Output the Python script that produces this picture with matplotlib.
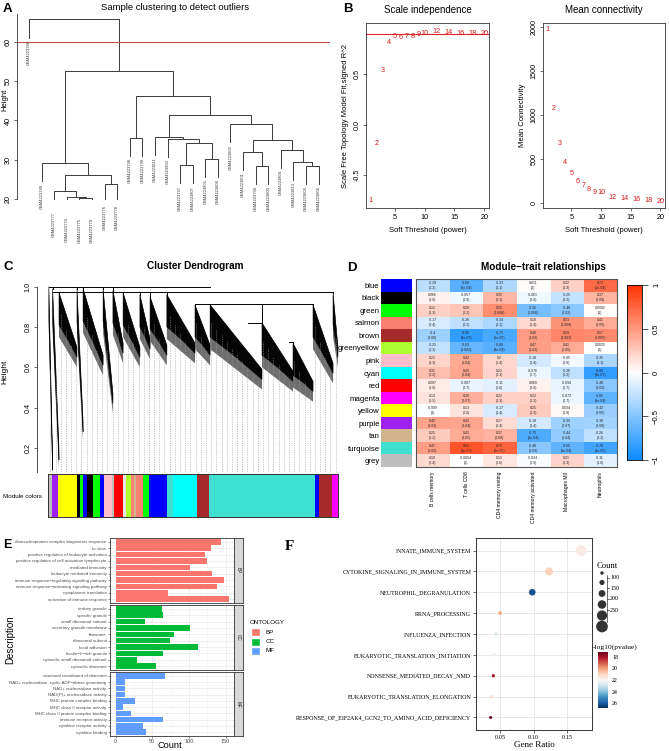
import numpy as np
import matplotlib
matplotlib.use("Agg")
import matplotlib.pyplot as plt
from matplotlib.colors import LinearSegmentedColormap, Normalize
from matplotlib.patches import Rectangle, Polygon

W, H = 669, 751
SANS = ["Liberation Sans", "DejaVu Sans"]
SERIF = ["Liberation Serif", "DejaVu Serif"]
plt.rcParams["font.family"] = SANS

# ---------------- data ----------------
# A: sample dendrogram (leaf order left->right, merges like hclust)
a_leaves = ["GSM4223786", "GSM4223780", "GSM4223777", "GSM4223774", "GSM4223775", "GSM4223779",
            "GSM4223776", "GSM4223778", "GSM4223798", "GSM4223799", "GSM4223811", "GSM4223803",
            "GSM4223797", "GSM4223807", "GSM4223805", "GSM4223808", "GSM4223802", "GSM4223801",
            "GSM4223796", "GSM4223800", "GSM4223804", "GSM4223813", "GSM4223809", "GSM4223806"]
a_left = [4, 3, 2, 6, 26, 1, 8, 12, 14, 31, 11, 10, 18, 17, 22, 21, 20, 37, 16, 35, 30, 29, 0]
a_right = [5, 24, 25, 7, 27, 28, 9, 13, 15, 32, 33, 34, 19, 36, 23, 38, 39, 40, 41, 42, 43, 44, 45]
a_height = [20.3, 20.6, 22.0, 23.7, 26.0, 29.1, 35.6, 28.6, 30.3, 34.2, 35.4, 35.9, 28.5, 32.0,
            28.5, 29.5, 32.5, 35.0, 39.0, 41.4, 46.3, 52.6, 65.7]
a_cut = 60

# B: soft threshold
powers = [1, 2, 3, 4, 5, 6, 7, 8, 9, 10, 12, 14, 16, 18, 20]
sft_r2 = [-0.76, -0.19, 0.54, 0.82, 0.88, 0.87, 0.88, 0.88, 0.90, 0.91, 0.93, 0.92, 0.91, 0.91, 0.91]
mean_k = [1962, 1073, 678, 459, 337, 250, 201, 156, 126, 118, 68, 50, 39, 31, 24]
r2_cut = 0.9

# C: gene dendrogram clusters (leaf fraction start/end, top and bottom heights)
cl_x0 = [0.003, 0.016, 0.038, 0.100, 0.121, 0.190, 0.224, 0.259, 0.317, 0.352, 0.410, 0.507, 0.559, 0.738, 0.845, 0.914, 0.983]
cl_x1 = [0.016, 0.038, 0.100, 0.121, 0.190, 0.224, 0.259, 0.317, 0.352, 0.410, 0.507, 0.559, 0.738, 0.845, 0.914, 0.983, 1.000]
cl_top = [1.00, 0.99, 0.97, 0.99, 0.99, 0.99, 0.98, 0.97, 0.96, 0.95, 0.96, 0.91, 0.91, 0.82, 0.72, 0.91, 0.97]
cl_bot = [0.14, 0.19, 0.70, 0.33, 0.66, 0.47, 0.72, 0.70, 0.74, 0.71, 0.72, 0.71, 0.59, 0.58, 0.53, 0.62, 0.70]
merge_x0 = [0.003, 0.016, 0.507, 0.690, 0.830]
merge_x1 = [0.560, 0.983, 0.914, 0.738, 0.845]
merge_h = [1.000, 0.975, 0.914, 0.818, 0.724]
# module colour bar (start fraction of leaves, colour)
mc_start = [0.000, 0.014, 0.034, 0.100, 0.110, 0.121, 0.134, 0.155, 0.179, 0.193, 0.221, 0.228, 0.259,
            0.269, 0.286, 0.297, 0.303, 0.328, 0.348, 0.410, 0.431, 0.514, 0.555, 0.921, 0.934, 0.979]
mc_color = ["#BEBEBE", "#A020F0", "#FFFF00", "#000000", "#00FF00", "#0000FF", "#000000", "#00FF00",
            "#0000FF", "#FFC0CB", "#BEBEBE", "#FF0000", "#E6E6E6", "#ADFF2F", "#FA8072", "#D2B48C",
            "#FA8072", "#00FF00", "#0000FF", "#40E0D0", "#00FFFF", "#A52A2A", "#40E0D0", "#0000FF",
            "#A52A2A", "#FF00FF"]
mc_end = mc_start[1:] + [1.0]

# D: module-trait heatmap
modules = ["blue", "black", "green", "salmon", "brown", "greenyellow", "pink", "cyan", "red",
           "magenta", "yellow", "purple", "tan", "turquoise", "grey"]
module_hex = ["#0000FF", "#000000", "#00FF00", "#FA8072", "#A52A2A", "#ADFF2F", "#FFC0CB", "#00FFFF",
              "#FF0000", "#FF00FF", "#FFFF00", "#A020F0", "#D2B48C", "#40E0D0", "#BEBEBE"]
traits = ["B cells memory", "T cells CD8", "CD4 memory resting", "CD4 memory activated",
          "Macrophages M0", "Neutrophils"]
cor = [
    [-0.28, -0.68, -0.33, 0.011, 0.22, 0.72],
    [0.066, -0.057, 0.35, -0.061, -0.25, 0.37],
    [0.22, 0.28, 0.55, -0.56, -0.48, 0.0092],
    [-0.17, -0.26, -0.34, 0.18, 0.53, 0.41],
    [-0.4, -0.85, -0.75, 0.48, 0.59, 0.57],
    [-0.25, -0.63, -0.68, 0.47, 0.41, 0.0025],
    [0.21, 0.42, 0.2, -0.18, -0.05, -0.35],
    [0.31, 0.43, 0.21, -0.076, -0.26, -0.85],
    [0.087, -0.087, -0.11, 0.069, -0.094, -0.48],
    [0.13, 0.39, 0.22, 0.22, -0.072, -0.65],
    [-0.009, 0.13, -0.17, 0.25, 0.034, -0.42],
    [0.45, 0.43, 0.17, -0.18, -0.39, -0.38],
    [0.25, 0.41, 0.37, -0.72, -0.44, -0.26],
    [0.47, 0.83, 0.75, -0.48, -0.65, -0.78],
    [0.18, -0.0054, 0.12, -0.024, 0.21, -0.11],
]
pval = [
    ["0.2", "5e-04", "0.1", "1", "0.3", "1e-04"],
    ["0.8", "0.8", "0.1", "0.8", "0.2", "0.09"],
    ["0.3", "0.2", "0.008", "0.006", "0.02", "1"],
    ["0.4", "0.2", "0.1", "0.4", "0.009", "0.05"],
    ["0.06", "4e-07", "5e-05", "0.02", "0.003", "0.005"],
    ["0.3", "0.002", "3e-04", "0.02", "0.05", "1"],
    ["0.3", "0.04", "0.4", "0.4", "0.8", "0.1"],
    ["0.2", "0.04", "0.3", "0.7", "0.2", "4e-07"],
    ["0.8", "0.7", "0.6", "0.8", "0.7", "0.02"],
    ["0.5", "0.07", "0.3", "0.3", "0.7", "9e-04"],
    ["1", "0.6", "0.4", "0.3", "0.9", "0.05"],
    ["0.03", "0.04", "0.4", "0.4", "0.07", "0.08"],
    ["0.2", "0.05", "0.08", "1e-04", "0.04", "0.2"],
    ["0.02", "4e-07", "5e-05", "0.02", "9e-04", "1e-05"],
    ["0.4", "1", "0.6", "0.9", "0.3", "0.6"],
]

# E: GO enrichment
go_bp = ["ribonucleoprotein complex biogenesis response", "to virus",
         "positive regulation of leukocyte activation", "positive regulation of cell activation lymphocyte",
         "mediated immunity", "leukocyte mediated immunity", "immune response\u2212regulating signaling pathway",
         "immune response\u2212activating signaling pathway", "cytoplasmic translation", "activation of immune response"]
go_bp_n = [144, 130, 122, 125, 102, 131, 148, 138, 72, 154]
go_cc = ["tertiary granule", "specific granule", "small ribosomal subunit", "secretory granule membrane",
         "ribosome", "ribosomal subunit", "focal adhesion", "ficolin\u22121\u2212rich granule",
         "cytosolic small ribosomal subunit", "cytosolic ribosome"]
go_cc_n = [63, 65, 40, 102, 79, 74, 113, 64, 29, 55]
go_mf = ["structural constituent of ribosome", "NAD+ nucleosidase, cyclic ADP\u2212ribose generating",
         "NAD+ nucleosidase activity", "NAD(P)+ nucleosidase activity", "MHC protein complex binding",
         "MHC class II receptor activity", "MHC class II protein complex binding", "immune receptor activity",
         "cytokine receptor activity", "cytokine binding"]
go_mf_n = [67, 13, 13, 13, 27, 10, 21, 64, 37, 41]
ont_names = ["BP", "CC", "MF"]
ont_colors = ["#F8766D", "#00BA38", "#619CFF"]

# F: pathway dot plot (top -> bottom)
pathways = ["INNATE_IMMUNE_SYSTEM", "CYTOKINE_SIGNALING_IN_IMMUNE_SYSTEM", "NEUTROPHIL_DEGRANULATION",
            "RRNA_PROCESSING", "INFLUENZA_INFECTION", "EUKARYOTIC_TRANSLATION_INITIATION",
            "NONSENSE_MEDIATED_DECAY_NMD", "EUKARYOTIC_TRANSLATION_ELONGATION",
            "RESPONSE_OF_EIF2AK4_GCN2_TO_AMINO_ACID_DEFICIENCY"]
gene_ratio = [0.171, 0.123, 0.098, 0.050, 0.044, 0.041, 0.040, 0.037, 0.036]
path_count = [290, 209, 167, 85, 74, 69, 67, 63, 61]
neglogp = [21.6, 20.9, 26.2, 20.2, 22.8, 22.3, 18.0, 21.2, 17.3]

# ---------------- figure ----------------
fig = plt.figure(figsize=(W / 100, H / 100), dpi=100)


def box(l, t, r, b):
    return fig.add_axes([l / W, 1 - b / H, (r - l) / W, (b - t) / H])


def plabel(x, y, s, fam=SANS, size=9.5, weight="bold"):
    fig.text(x / W, 1 - y / H, s, fontsize=size, fontweight=weight, family=fam, ha="left", va="center")


def r_axis_style(ax):
    ax.tick_params(labelsize=5.2, length=2.5, width=0.5, pad=1.5, color="#333333")
    for s in ax.spines.values():
        s.set_linewidth(0.6)
        s.set_color("#333333")


# ---- A ----
axA = box(17, 12, 330, 200)
pos = {i: float(i) for i in range(len(a_leaves))}
top = {}
hang = 4.6
n = len(a_leaves)
for k, (l, r, h) in enumerate(zip(a_left, a_right, a_height)):
    ya = top.get(l, h - hang)
    yb = top.get(r, h - hang)
    if l < n:
        top[l] = ya
    if r < n:
        top[r] = yb
    axA.plot([pos[l], pos[l], pos[r], pos[r]], [ya, h, h, yb], color="#3a3a3a", lw=0.7)
    pos[n + k] = (pos[l] + pos[r]) / 2
    top[n + k] = h
for i, name in enumerate(a_leaves):
    axA.text(i, top[i] - 0.6, name, rotation=90, fontsize=2.9, ha="center", va="top",
             color="#333333", clip_on=False)
axA.axhline(a_cut, color="#C0504D", lw=0.8)
axA.set_xlim(-0.95, 23.9)
axA.set_ylim(19.75, 67.6)
for s in ["top", "right", "bottom"]:
    axA.spines[s].set_visible(False)
axA.spines["left"].set_bounds(20, 67)
axA.set_xticks([])
axA.set_yticks([20, 30, 40, 50, 60])
for t in axA.get_yticklabels():
    t.set_rotation(90)
    t.set_va("center")
r_axis_style(axA)
fig.text(5 / W, 1 - 100 / H, "Height", rotation=90, fontsize=5.5, ha="center", va="center")
fig.text(175 / W, 1 - 7 / H, "Sample clustering to detect outliers", fontsize=6.8, ha="center", va="center")
plabel(3, 9, "A")

# ---- B ----
axB1 = box(366, 23, 489, 208)
axB1.plot([0.24, 20.76], [r2_cut, r2_cut], color="#E0262C", lw=0.8)
for p, v in zip(powers, sft_r2):
    axB1.text(p, v, str(p), color="#D7191C", fontsize=5.2, ha="center", va="center")
axB1.set_xlim(0.24, 20.76)
axB1.set_ylim(-0.83, 1.01)
axB1.set_xticks([5, 10, 15, 20])
axB1.set_yticks([-0.5, 0.0, 0.5])
axB1.set_yticklabels(["-0.5", "0.0", "0.5"], rotation=90, va="center")
r_axis_style(axB1)
axB1.set_xlabel("Soft Threshold (power)", fontsize=5.5, labelpad=5)
axB1.set_ylabel("Scale Free Topology Model Fit,signed R^2", fontsize=5.5, labelpad=3)
axB1.set_title("Scale independence", fontsize=7, pad=7)

axB2 = box(543, 23, 665, 208)
for p, v in zip(powers, mean_k):
    axB2.text(p, v, str(p), color="#D7191C", fontsize=5.2, ha="center", va="center")
axB2.set_xlim(0.24, 20.76)
axB2.set_ylim(-53, 2040)
axB2.set_xticks([5, 10, 15, 20])
axB2.set_yticks([0, 500, 1000, 1500, 2000])
axB2.set_yticklabels(["0", "500", "1000", "1500", "2000"], rotation=90, va="center")
r_axis_style(axB2)
axB2.set_xlabel("Soft Threshold (power)", fontsize=5.5, labelpad=5)
axB2.set_ylabel("Mean Connectivity", fontsize=5.5, labelpad=3)
axB2.set_title("Mean connectivity", fontsize=7, pad=7)
plabel(343, 9, "B")

# ---- C ----
axC = box(37, 283, 340, 473)
x_left = -11 / 290
axC.set_xlim(x_left, 1.007)
axC.set_ylim(0.076, 1.018)
for gx in np.linspace(0.008, 0.992, 56):
    k = min(int(np.searchsorted(cl_x1, gx)), len(cl_x1) - 1)
    frac = (gx - cl_x0[k]) / (cl_x1[k] - cl_x0[k])
    hh = cl_top[k] + (cl_bot[k] - cl_top[k]) * frac - 0.08
    axC.plot([gx, gx], [0.076, hh], color="#9a9a9a", lw=0.5, ls=(0, (1, 1.5)))
for x0, x1, tp, bt in zip(cl_x0, cl_x1, cl_top, cl_bot):
    wdt = x1 - x0
    axC.add_patch(Polygon([(x0, tp), (x1, bt), (x1, bt - 0.1), (x0 + 0.5 * wdt, tp - 0.5 * (tp - bt) - 0.16),
                           (x0, tp - 0.22)], closed=True, fc="#6e6e6e", ec="none"))
    axC.add_patch(Polygon([(x0, tp), (x1, bt), (x1, bt - 0.05), (x0 + 0.5 * wdt, tp - 0.5 * (tp - bt) - 0.1),
                           (x0, tp - 0.16)], closed=True, fc="#050505", ec="#050505", lw=0.4))
    above = [h for mx0, mx1, h in zip(merge_x0, merge_x1, merge_h) if mx0 - 1e-3 <= x0 <= mx1 + 1e-3 and h >= tp]
    if above:
        axC.plot([x0, x0], [tp, min(above)], color="black", lw=0.7)
for mx0, mx1, h in zip(merge_x0, merge_x1, merge_h):
    axC.plot([mx0, mx1], [h, h], color="black", lw=0.7)
for s in ["top", "right", "bottom"]:
    axC.spines[s].set_visible(False)
axC.spines["left"].set_bounds(0.08, 1.0)
axC.set_xticks([])
axC.set_yticks([0.2, 0.4, 0.6, 0.8, 1.0])
for t in axC.get_yticklabels():
    t.set_rotation(90)
    t.set_va("center")
r_axis_style(axC)
fig.text(5 / W, 1 - 372 / H, "Height", rotation=90, fontsize=6, ha="center", va="center")
fig.text(195 / W, 1 - 266 / H, "Cluster Dendrogram", fontsize=7.2, fontweight="bold", ha="center", va="center")
plabel(3, 267, "C")

axCb = box(48, 474, 338, 517)
for s0, s1, c in zip(mc_start, mc_end, mc_color):
    axCb.add_patch(Rectangle((s0, 0), s1 - s0, 1, fc=c, ec="none"))
axCb.set_xlim(0, 1)
axCb.set_ylim(0, 1)
axCb.set_xticks([])
axCb.set_yticks([])
for s in axCb.spines.values():
    s.set_linewidth(0.7)
    s.set_color("#333333")
fig.text(3 / W, 1 - 496 / H, "Module colors", fontsize=4.5, ha="left", va="center")

# ---- D ----
bwr = LinearSegmentedColormap.from_list("bwr_wgcna", [(0.05, 0.55, 1.0), (1, 1, 1), (1.0, 0.2, 0.0)])
axDs = box(381, 279, 412, 467)
for i, c in enumerate(module_hex):
    axDs.add_patch(Rectangle((0, i), 1, 1, fc=c, ec="none"))
axDs.set_xlim(0, 1)
axDs.set_ylim(len(modules), 0)
axDs.set_xticks([])
axDs.set_yticks(np.arange(len(modules)) + 0.5)
axDs.set_yticklabels(modules, fontsize=5.6)
axDs.tick_params(length=0, pad=1)
for s in axDs.spines.values():
    s.set_visible(False)

axD = box(416, 279, 617, 467)
cor_arr = np.array(cor)
axD.imshow(cor_arr, cmap=bwr, vmin=-1, vmax=1, aspect="auto", extent=(0, 6, 15, 0), interpolation="nearest")
for i in range(len(modules)):
    for j in range(len(traits)):
        axD.text(j + 0.5, i + 0.5, "%s\n(%s)" % (format(cor[i][j], "g"), pval[i][j]), fontsize=2.5,
                 ha="center", va="center", linespacing=1.3, color="#222222")
axD.set_xticks(np.arange(6) + 0.5)
axD.set_xticklabels(traits, rotation=90, fontsize=3.6, va="top", ha="center")
axD.set_yticks([])
axD.tick_params(length=0, pad=3)
for s in axD.spines.values():
    s.set_linewidth(0.8)
    s.set_color("#555555")
fig.text(543 / W, 1 - 267 / H, "Module\u2212trait relationships", fontsize=7.2, fontweight="bold", ha="center",
         va="center")
plabel(347, 268, "D")

axDc = box(627, 285, 642, 460)
grad = np.linspace(1, -1, 200).reshape(-1, 1)
axDc.imshow(grad, cmap=bwr, vmin=-1, vmax=1, aspect="auto", extent=(0, 1, -1, 1))
axDc.set_xticks([])
axDc.yaxis.tick_right()
axDc.set_yticks([-1, -0.5, 0, 0.5, 1])
axDc.set_yticklabels(["\u22121", "\u22120.5", "0", "0.5", "1"], rotation=90, va="center", fontsize=5.5)
axDc.tick_params(length=4, width=0.6, pad=4, color="#333333")
for s in axDc.spines.values():
    s.set_linewidth(0.6)

# ---- E ----
facets = [(538, 603, go_bp, go_bp_n), (605, 670, go_cc, go_cc_n), (672, 736, go_mf, go_mf_n)]
for fi, (t0, t1, labels, vals) in enumerate(facets):
    ax = box(110, t0, 234, t1)
    ypos = np.arange(len(labels))
    ax.set_axisbelow(True)
    ax.barh(ypos, vals, height=0.88, color=ont_colors[fi], zorder=2)
    ax.set_xlim(-7.7, 161.5)
    ax.set_ylim(len(labels) - 0.4, -0.6)
    ax.set_yticks(ypos)
    ax.set_yticklabels(labels, fontsize=3.15)
    ax.set_xticks([0, 50, 100, 150])
    ax.set_xticks([25, 75, 125], minor=True)
    ax.grid(True, which="major", color="#EBEBEB", lw=0.6)
    ax.grid(True, which="minor", axis="x", color="#F4F4F4", lw=0.4)
    ax.tick_params(length=1.5, width=0.4, pad=1, color="#444444", labelcolor="#4D4D4D")
    ax.tick_params(which="minor", length=0)
    for s in ax.spines.values():
        s.set_linewidth(0.6)
        s.set_color("#333333")
    if fi < 2:
        ax.set_xticklabels([])
        ax.tick_params(axis="x", length=0)
    else:
        ax.tick_params(axis="x", labelsize=4.0, pad=0.8)
    st = box(234, t0, 243, t1)
    st.set_facecolor("#D9D9D9")
    st.set_xticks([])
    st.set_yticks([])
    for s in st.spines.values():
        s.set_linewidth(0.6)
        s.set_color("#333333")
    st.text(0.5, 0.5, ont_names[fi], rotation=-90, fontsize=3.4, ha="center", va="center",
            transform=st.transAxes, color="#1A1A1A")
fig.text(10 / W, 1 - 640 / H, "Description", rotation=90, fontsize=7, ha="center", va="center")
fig.text(170 / W, 1 - 745 / H, "Count", fontsize=6.6, ha="center", va="center")
fig.text(250 / W, 1 - 622 / H, "ONTOLOGY", fontsize=4.5, ha="left", va="center")
for k, (nm, c) in enumerate(zip(ont_names, ont_colors)):
    yy = 632 + k * 9.5
    fig.patches.append(Rectangle((251 / W, 1 - (yy + 4) / H), 9 / W, 8 / H, fc=c, ec="white",
                                 transform=fig.transFigure, figure=fig))
    fig.text(266 / W, 1 - yy / H, nm, fontsize=4.5, ha="left", va="center")
plabel(3, 545, "E", size=9)

# ---- F ----
axF = box(476, 538, 592, 730)
nP = len(pathways)
yF = np.arange(nP)[::-1] + 1
pnorm = Normalize(vmin=17.2, vmax=26.8)
rdbu = plt.get_cmap("RdBu")


def dot_size(c):
    d = 3.0 + (c - 60) / 230 * 7.7
    return (d * 0.72) ** 2


axF.set_axisbelow(True)
axF.grid(True, color="#E3E3E3", lw=0.6)
axF.scatter(gene_ratio, yF, s=[dot_size(c) for c in path_count], c=rdbu(pnorm(neglogp)), zorder=3,
            edgecolors="none")
axF.set_xlim(0.0142, 0.187)
axF.set_ylim(0.4, nP + 0.6)
axF.set_yticks(yF)
axF.set_yticklabels(pathways, fontsize=4.3, family=SERIF)
axF.set_xticks([0.05, 0.10, 0.15])
axF.set_xticklabels(["0.05", "0.10", "0.15"], fontsize=4.5, family=SERIF)
axF.tick_params(length=2, width=0.5, pad=1.5, color="#333333")
for s in axF.spines.values():
    s.set_linewidth(0.7)
    s.set_color("#333333")
axF.set_xlabel("Gene Ratio", fontsize=6.5, family=SERIF, labelpad=1)
plabel(285, 547, "F", fam=SERIF, size=11)

# count legend
fig.text(597 / W, 1 - 566 / H, "Count", fontsize=6.2, family=SERIF, ha="left", va="center")
leg_counts = [75, 125, 175, 225, 275, 320]
leg_y = [573, 582.5, 593.5, 604.5, 615.5, 626.5]
axL = box(590, 568, 640, 632)
axL.set_xlim(590, 640)
axL.set_ylim(632, 568)
axL.axis("off")
axL.scatter([602] * len(leg_counts), leg_y, s=[dot_size(c) for c in leg_counts], color="#333333",
            edgecolors="none", clip_on=False)
axL.plot([607, 607], [575, 622], color="#333333", lw=0.5)
for v, yy in zip([100, 150, 200, 250], [577.5, 588, 599, 610]):
    axL.plot([607, 609], [yy, yy], color="#333333", lw=0.5)
    axL.text(610, yy, str(v), fontsize=4.3, family=SERIF, ha="left", va="center")

# p-value colourbar
fig.text(593 / W, 1 - 647 / H, "-log10(pvalue)", fontsize=5.4, family=SERIF, ha="left", va="center")
axPc = box(598, 652, 608, 708)
grad2 = np.linspace(17.2, 26.8, 200).reshape(-1, 1)
axPc.imshow(grad2, cmap=rdbu, norm=pnorm, aspect="auto", extent=(0, 1, 26.8, 17.2))
axPc.set_ylim(26.8, 17.2)
axPc.set_xticks([])
axPc.yaxis.tick_right()
axPc.set_yticks([18, 20, 22, 24, 26])
axPc.set_yticklabels(["18", "20", "22", "24", "26"], fontsize=4.3, family=SERIF)
axPc.tick_params(length=1.5, width=0.5, pad=1.5, color="white")
for s in axPc.spines.values():
    s.set_visible(False)

fig.savefig("out.png", dpi=100)
